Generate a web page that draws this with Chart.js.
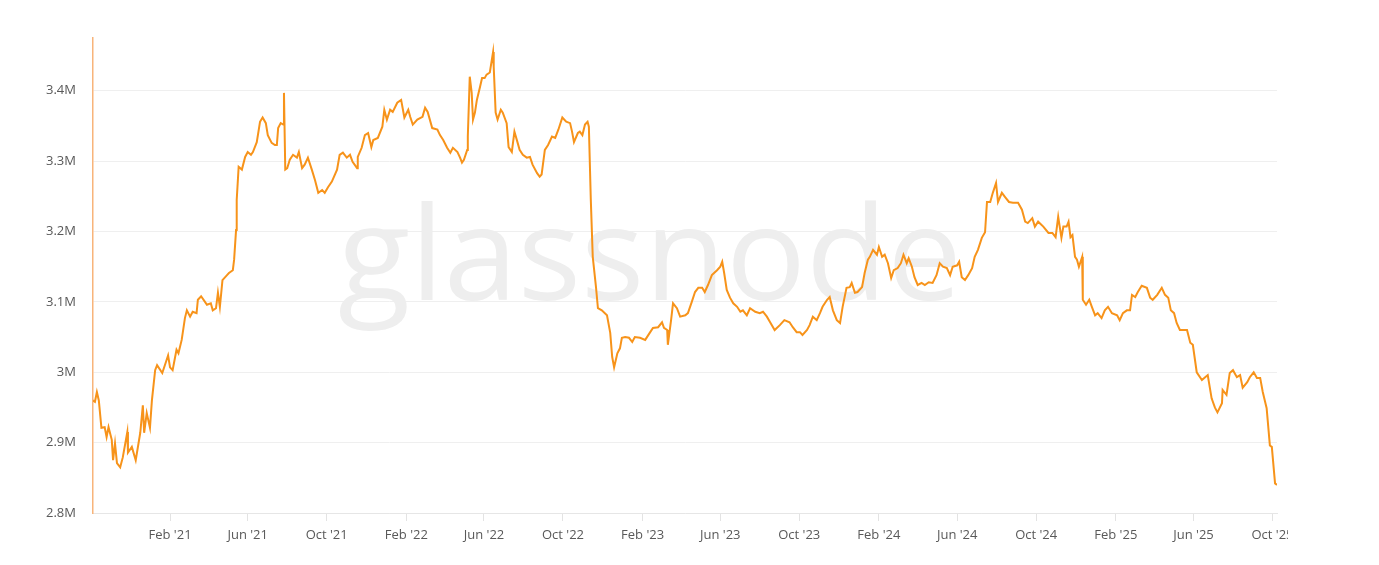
<!DOCTYPE html>
<html>
<head>
<meta charset="utf-8">
<script src="https://cdn.jsdelivr.net/npm/chart.js@4.4.1/dist/chart.umd.min.js"></script>
<style>
  body { margin: 0; background: #fff; }
  #wrap { width: 1288px; height: 565px; overflow: hidden; }
  canvas { display: block; }
</style>
</head>
<body>
<div id="wrap"><canvas id="lineChart" width="1379" height="565"></canvas></div>
<script>
// one line per month, dates and values kept side by side
var dates = [
  '2020-10-05','2020-10-08','2020-10-11','2020-10-14','2020-10-18','2020-10-23','2020-10-26','2020-10-29',
  '2020-11-03','2020-11-05','2020-11-08','2020-11-11','2020-11-16','2020-11-20','2020-11-27','2020-11-28',
  '2020-12-04','2020-12-10','2020-12-17','2020-12-21','2020-12-23','2020-12-27',
  '2021-01-01','2021-01-04','2021-01-09','2021-01-12','2021-01-20','2021-01-24','2021-01-29',
  '2021-02-01','2021-02-05','2021-02-11','2021-02-14','2021-02-19','2021-02-24','2021-02-27',
  '2021-03-04','2021-03-08','2021-03-14','2021-03-16','2021-03-21','2021-03-27','2021-03-30',
  '2021-04-05','2021-04-08','2021-04-13','2021-04-16','2021-04-19','2021-04-23','2021-04-30',
  '2021-05-03','2021-05-09','2021-05-11','2021-05-14','2021-05-15','2021-05-18','2021-05-23','2021-05-28',
  '2021-06-01','2021-06-06','2021-06-09','2021-06-15','2021-06-20','2021-06-24','2021-06-29',
  '2021-07-02','2021-07-08','2021-07-13','2021-07-16','2021-07-18','2021-07-22','2021-07-26','2021-07-27','2021-07-29',
  '2021-08-01','2021-08-05','2021-08-10','2021-08-16','2021-08-19','2021-08-24','2021-08-28',
  '2021-09-02','2021-09-08','2021-09-13','2021-09-18','2021-09-24','2021-09-28',
  '2021-10-03','2021-10-09','2021-10-17','2021-10-21','2021-10-26',
  '2021-11-01','2021-11-06','2021-11-10','2021-11-17','2021-11-18','2021-11-24','2021-11-29',
  '2021-12-04','2021-12-09','2021-12-12','2021-12-19','2021-12-26','2021-12-29',
  '2022-01-02','2022-01-07','2022-01-11','2022-01-18','2022-01-24','2022-01-29',
  '2022-02-04','2022-02-07','2022-02-11','2022-02-18','2022-02-26',
  '2022-03-02','2022-03-06','2022-03-13','2022-03-21','2022-03-25','2022-03-30',
  '2022-04-05','2022-04-10','2022-04-14','2022-04-21','2022-04-25','2022-04-28',
  '2022-05-01','2022-05-06','2022-05-07','2022-05-10','2022-05-13','2022-05-15','2022-05-18','2022-05-21','2022-05-26','2022-05-29',
  '2022-06-02','2022-06-05','2022-06-10','2022-06-15','2022-06-16','2022-06-19','2022-06-22','2022-06-27','2022-06-30',
  '2022-07-06','2022-07-09','2022-07-14','2022-07-18','2022-07-23','2022-07-26','2022-07-31',
  '2022-08-06','2022-08-11','2022-08-15','2022-08-22','2022-08-26','2022-08-29',
  '2022-09-03','2022-09-08','2022-09-14','2022-09-19','2022-09-24','2022-09-30',
  '2022-10-06','2022-10-12','2022-10-15','2022-10-18','2022-10-24','2022-10-27','2022-10-31',
  '2022-11-04','2022-11-08','2022-11-10','2022-11-13','2022-11-16','2022-11-21','2022-11-24','2022-11-30',
  '2022-12-08','2022-12-13','2022-12-16','2022-12-19','2022-12-24','2022-12-28','2022-12-31',
  '2023-01-05','2023-01-11','2023-01-16','2023-01-20','2023-01-28',
  '2023-02-05','2023-02-12','2023-02-17','2023-02-25',
  '2023-03-03','2023-03-06','2023-03-11','2023-03-12','2023-03-17','2023-03-20','2023-03-26','2023-03-31',
  '2023-04-08','2023-04-12','2023-04-18','2023-04-23','2023-04-28',
  '2023-05-04','2023-05-08','2023-05-13','2023-05-19','2023-05-27',
  '2023-06-01','2023-06-04','2023-06-07','2023-06-11','2023-06-16','2023-06-21','2023-06-27',
  '2023-07-02','2023-07-06','2023-07-12','2023-07-17','2023-07-25',
  '2023-08-01','2023-08-06','2023-08-12','2023-08-17','2023-08-24',
  '2023-09-01','2023-09-08','2023-09-16','2023-09-21','2023-09-27',
  '2023-10-02','2023-10-06','2023-10-13','2023-10-17','2023-10-22','2023-10-28',
  '2023-11-02','2023-11-06','2023-11-13','2023-11-17','2023-11-22','2023-11-28',
  '2023-12-03','2023-12-07','2023-12-13','2023-12-18','2023-12-21','2023-12-26','2023-12-30',
  '2024-01-06','2024-01-10','2024-01-15','2024-01-18','2024-01-23','2024-01-29',
  '2024-02-01','2024-02-06','2024-02-10','2024-02-15','2024-02-20','2024-02-24',
  '2024-03-01','2024-03-06','2024-03-10','2024-03-15','2024-03-18','2024-03-23','2024-03-27',
  '2024-04-01','2024-04-07','2024-04-12','2024-04-18','2024-04-24','2024-04-30',
  '2024-05-05','2024-05-10','2024-05-16','2024-05-21','2024-05-25',
  '2024-06-01','2024-06-04','2024-06-08','2024-06-13','2024-06-18','2024-06-24','2024-06-28',
  '2024-07-03','2024-07-09','2024-07-14','2024-07-17','2024-07-22','2024-07-26','2024-07-31',
  '2024-08-03','2024-08-09','2024-08-14','2024-08-20','2024-08-26',
  '2024-09-03','2024-09-09','2024-09-14','2024-09-18','2024-09-25','2024-09-29',
  '2024-10-04','2024-10-12','2024-10-20','2024-10-26','2024-10-31',
  '2024-11-04','2024-11-09','2024-11-12','2024-11-17','2024-11-20','2024-11-23','2024-11-26','2024-11-30',
  '2024-12-03','2024-12-06','2024-12-11','2024-12-12','2024-12-17','2024-12-22','2024-12-26','2024-12-31',
  '2025-01-04','2025-01-10','2025-01-15','2025-01-20','2025-01-26',
  '2025-02-03','2025-02-07','2025-02-12','2025-02-18','2025-02-23','2025-02-26',
  '2025-03-03','2025-03-07','2025-03-13','2025-03-21','2025-03-26','2025-03-30',
  '2025-04-06','2025-04-13','2025-04-18','2025-04-23','2025-04-27',
  '2025-05-02','2025-05-06','2025-05-11','2025-05-16','2025-05-22','2025-05-27','2025-05-31',
  '2025-06-06','2025-06-14','2025-06-19','2025-06-23','2025-06-29',
  '2025-07-04','2025-07-08','2025-07-15','2025-07-16','2025-07-22','2025-07-27',
  '2025-08-01','2025-08-07','2025-08-12','2025-08-16','2025-08-23','2025-08-27',
  '2025-09-02','2025-09-07','2025-09-12','2025-09-16','2025-09-22','2025-09-27','2025-09-30',
  '2025-10-05','2025-10-08'
];

// values in millions
var values = [
  2.960,2.958,2.972,2.960,2.921,2.922,2.908,2.922,
  2.904,2.875,2.899,2.871,2.865,2.879,2.915,2.886,
  2.894,2.875,2.914,2.953,2.914,2.942,
  2.921,2.960,3.003,3.010,2.999,3.010,3.024,
  3.007,3.003,3.032,3.027,3.046,3.077,3.088,
  3.079,3.086,3.084,3.103,3.108,3.100,3.096,
  3.098,3.088,3.091,3.113,3.093,3.131,3.138,
  3.141,3.145,3.160,3.202,3.245,3.292,3.288,3.306,
  3.313,3.309,3.313,3.327,3.356,3.362,3.354,
  3.337,3.326,3.323,3.323,3.347,3.354,3.352,3.397,3.288,
  3.290,3.302,3.309,3.305,3.313,3.290,3.295,
  3.305,3.288,3.273,3.255,3.259,3.255,
  3.263,3.271,3.288,3.309,3.312,
  3.305,3.309,3.299,3.290,3.306,3.319,3.337,
  3.340,3.320,3.330,3.333,3.349,3.373,
  3.359,3.373,3.370,3.383,3.387,3.362,
  3.373,3.363,3.352,3.359,3.363,
  3.376,3.370,3.347,3.345,3.337,3.330,
  3.319,3.312,3.319,3.313,3.305,3.298,
  3.302,3.316,3.335,3.420,3.397,3.359,3.369,3.387,3.406,3.418,
  3.418,3.423,3.426,3.455,3.434,3.369,3.359,3.373,3.369,
  3.354,3.320,3.313,3.342,3.326,3.316,3.309,
  3.305,3.306,3.295,3.283,3.278,3.281,
  3.316,3.323,3.335,3.333,3.345,3.362,
  3.356,3.354,3.342,3.327,3.340,3.342,3.337,
  3.352,3.356,3.349,3.245,3.164,3.121,3.091,3.088,
  3.081,3.056,3.022,3.007,3.027,3.034,3.049,
  3.050,3.049,3.043,3.050,3.049,
  3.046,3.056,3.063,3.064,
  3.071,3.063,3.060,3.039,3.074,3.098,3.091,3.079,
  3.081,3.084,3.100,3.114,3.120,
  3.120,3.114,3.124,3.138,3.145,
  3.150,3.157,3.141,3.117,3.106,3.098,3.093,
  3.086,3.088,3.081,3.091,3.086,
  3.084,3.086,3.079,3.071,3.060,
  3.067,3.074,3.071,3.064,3.057,
  3.057,3.053,3.060,3.067,3.079,3.074,
  3.084,3.093,3.103,3.107,3.088,3.074,
  3.070,3.093,3.120,3.121,3.127,3.113,3.114,
  3.121,3.141,3.160,3.164,3.174,3.167,
  3.178,3.164,3.167,3.155,3.134,3.145,
  3.148,3.155,3.167,3.155,3.162,3.150,3.135,
  3.124,3.127,3.124,3.128,3.127,3.138,
  3.155,3.150,3.148,3.138,3.150,
  3.152,3.157,3.135,3.131,3.138,3.148,3.164,
  3.174,3.191,3.199,3.242,3.242,3.255,3.269,
  3.242,3.255,3.249,3.242,3.241,
  3.241,3.231,3.214,3.212,3.219,3.207,
  3.214,3.207,3.198,3.198,3.192,
  3.221,3.191,3.207,3.207,3.214,3.192,3.195,3.164,
  3.160,3.150,3.164,3.103,3.096,3.103,3.093,3.081,
  3.084,3.077,3.088,3.093,3.084,
  3.081,3.074,3.084,3.088,3.088,3.110,
  3.107,3.114,3.123,3.120,3.106,3.103,
  3.110,3.120,3.110,3.106,3.088,
  3.084,3.070,3.060,3.060,3.060,3.042,3.039,
  3.000,2.989,2.993,2.996,2.963,
  2.950,2.943,2.956,2.975,2.968,2.999,
  3.003,2.993,2.996,2.978,2.986,2.993,
  3.000,2.992,2.992,2.972,2.949,2.896,2.894,
  2.842,2.840
];

// x axis labels sit on these month starts
var tickDates = [
  '2021-02-01','2021-06-01','2021-10-01','2022-02-01','2022-06-01','2022-10-01',
  '2023-02-01','2023-06-01','2023-10-01','2024-02-01','2024-06-01','2024-10-01',
  '2025-02-01','2025-06-01','2025-10-01'
];
var monthNames = ['Jan','Feb','Mar','Apr','May','Jun','Jul','Aug','Sep','Oct','Nov','Dec'];

var points = dates.map(function(d, i) {
    return { x: Date.parse(d), y: values[i] };
});

// glassnode watermark behind the line
var watermark = {
    id: 'watermark',
    beforeDatasetsDraw: function(chart) {
        var ctx = chart.ctx;
        ctx.save();
        ctx.font = '500 130px "Open Sans"';
        ctx.fillStyle = '#eeeeee';
        ctx.textBaseline = 'alphabetic';
        var w = ctx.measureText('glassnode').width;
        ctx.translate(338, 300);
        ctx.scale(624 / w, 1);
        ctx.fillText('glassnode', 0, 0);
        ctx.restore();
    }
};

var labelFont = { family: '"Open Sans", sans-serif', size: 13 };

var ctx = document.getElementById('lineChart').getContext('2d');
var myChart = new Chart(ctx, {
    type: 'line',
    data: {
        datasets: [{
            data: points,
            borderColor: '#f7931a',
            borderWidth: 2,
            pointRadius: 0,
            tension: 0,
            fill: false
        }]
    },
    options: {
        responsive: false,
        animation: false,
        layout: { padding: { top: 38, right: 102, bottom: 0, left: 0 } },
        plugins: {
            legend: { display: false },
            tooltip: { enabled: false }
        },
        scales: {
            x: {
                type: 'linear',
                min: Date.parse('2020-10-05'),
                max: Date.parse('2025-10-08'),
                afterBuildTicks: function(scale) {
                    scale.ticks = tickDates.map(function(d) { return { value: Date.parse(d) }; });
                },
                afterFit: function(scale) { scale.height = 52; },
                grid: { drawOnChartArea: false, drawTicks: true, tickLength: 8, color: '#e3e3e3' },
                border: { color: '#e6e6e6' },
                ticks: {
                    padding: 6,
                    color: '#595959',
                    font: labelFont,
                    maxRotation: 0,
                    autoSkip: false,
                    callback: function(v) {
                        var d = new Date(v);
                        return monthNames[d.getUTCMonth()] + " '" + String(d.getUTCFullYear()).slice(2);
                    }
                }
            },
            y: {
                min: 2.8,
                max: 3.475,
                afterFit: function(scale) { scale.width = 93; },
                grid: { color: '#efefef', drawTicks: false },
                border: { color: '#f8b47a', width: 1.5 },
                ticks: {
                    stepSize: 0.1,
                    includeBounds: false,
                    padding: 17,
                    color: '#595959',
                    font: labelFont,
                    callback: function(v) { return Math.round(v * 10) / 10 + 'M'; }
                }
            }
        }
    },
    plugins: [watermark]
});
</script>
</body>
</html>
